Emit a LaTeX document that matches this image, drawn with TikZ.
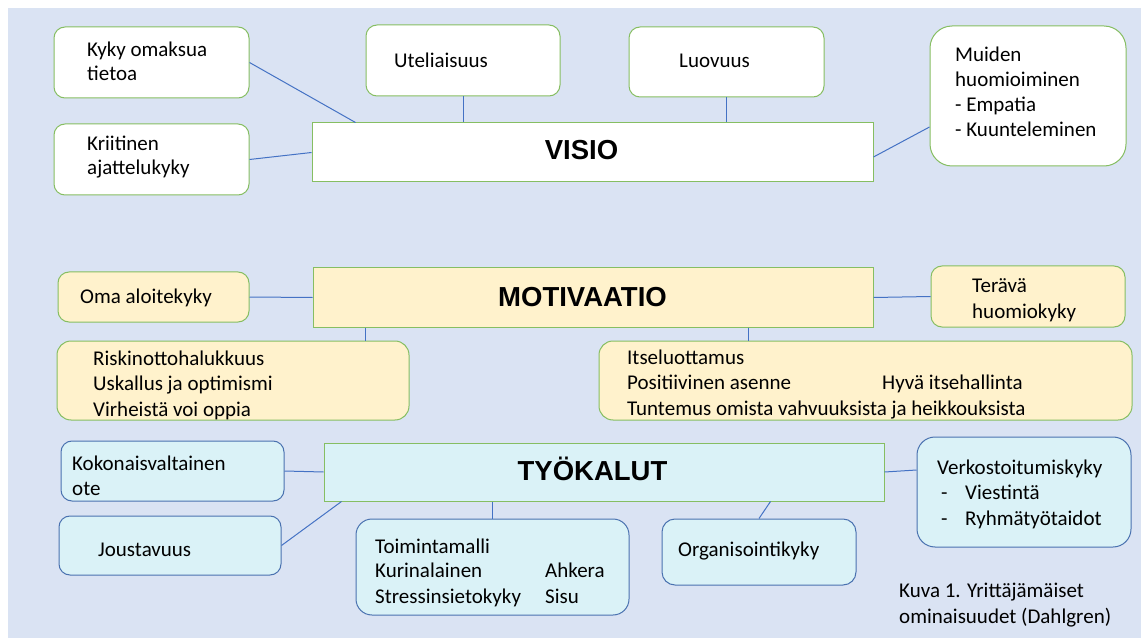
\documentclass[tikz,border=0pt]{standalone}
\usepackage{fontspec}
\setmainfont{Carlito}
\newfontfamily\hdrA{Liberation Sans}
\usetikzlibrary{calc}
\definecolor{bgc}{HTML}{DAE3F3}
\definecolor{grn}{HTML}{86BE62}
\definecolor{blu}{HTML}{4A72B0}
\definecolor{lin}{HTML}{4472C4}
\definecolor{yel}{HTML}{FFF2CC}
\definecolor{cya}{HTML}{DAF2F7}
\tikzset{
  boxbase/.style={rectangle, inner sep=0pt, line width=1pt, rounded corners=11pt},
  wbox/.style={boxbase, draw=grn, fill=white},
  ybox/.style={boxbase, draw=grn, fill=yel},
  cbox/.style={boxbase, draw=blu, fill=cya},
  hdrbox/.style={rectangle, inner sep=0pt, line width=1pt, draw=grn},
  conn/.style={draw=lin, line width=1pt},
  txt/.style={anchor=base west, inner sep=0pt, font=\fontsize{21}{25}\selectfont},
  hdrtxt/.style={anchor=base, inner sep=0pt, font=\hdrA\bfseries\fontsize{27.5}{30}\selectfont},
}
\newcommand\bx[6]{\node[#1, minimum width=#4pt, minimum height=#5pt] (#6) at (#2,#3) {};}
\newcommand\tl[4]{\node[txt] (#1) at (#2,#3) {#4};}
\begin{document}
\begin{tikzpicture}[x=1pt,y=-1pt]
\useasboundingbox (0,0) rectangle (1141,639);
\fill[bgc] (8,8) rectangle (1141,638);

% ---------- VISIO ----------
\bx{wbox}{151.5}{62.5}{195}{71}{kyky}
\bx{wbox}{151.5}{159.5}{195}{71}{krit}
\bx{wbox}{463}{60.5}{194}{71}{utel}
\bx{wbox}{726.5}{62}{195}{70}{luov}
\node[wbox, rounded corners=22pt, minimum width=196pt, minimum height=140pt] (muid) at (1028,96) {};
\node[hdrbox, fill=white, minimum width=561pt, minimum height=59pt] (visio) at (592.5,152.5) {};

\draw[conn] (kyky.east) -- ($(visio.north west)+(44,0)$);
\draw[conn] (krit.east) -- (visio.west);
\draw[conn] (utel.south) -- (utel.south |- visio.north);
\draw[conn] (luov.south) -- (luov.south |- visio.north);
\draw[conn] ($(visio.east)+(0,4.5)$) -- ($(muid.west)+(0,31)$);

\tl{t1}{87}{57}{Kyky omaksua}
\tl{t2}{87}{81}{tietoa}
\tl{t3}{87}{151}{Kriitinen}
\tl{t4}{87}{175}{ajattelukyky}
\tl{t5}{394}{68}{Uteliaisuus}
\tl{t6}{679}{68}{Luovuus}
\tl{t7}{955}{62}{Muiden}
\tl{t8}{955}{87}{huomioiminen}
\tl{t9}{955}{112}{- Empatia}
\tl{t10}{955}{137}{- Kuunteleminen}
\node[hdrtxt] (hv) at (581.5,159.5) {VISIO};

% ---------- MOTIVAATIO ----------
\bx{ybox}{153.5}{297}{191}{50}{oma}
\node[hdrbox, fill=yel, minimum width=560pt, minimum height=59pt] (mot) at (593,297.5) {};
\bx{ybox}{1028}{296.5}{194}{61}{ter}
\node[ybox, rounded corners=14pt, minimum width=352pt, minimum height=79pt] (risk) at (233,380.5) {};
\node[ybox, rounded corners=14pt, minimum width=533pt, minimum height=79pt] (itse) at (865.5,380.5) {};

\draw[conn] (oma.east) -- (mot.west);
\draw[conn] (mot.east) -- (ter.west);
\draw[conn] ($(mot.south west)+(53,0)$) coordinate (m1) -- (m1 |- risk.north);
\draw[conn] ($(mot.south west)+(436,0)$) coordinate (m2) -- (m2 |- itse.north);

\tl{t11}{80}{303}{Oma aloitekyky}
\tl{t12}{972}{292}{Terävä}
\tl{t13}{972}{318}{huomiokyky}
\tl{t14}{93}{365}{Riskinottohalukkuus}
\tl{t15}{93}{390}{Uskallus ja optimismi}
\tl{t16}{93}{416}{Virheistä voi oppia}
\tl{t17}{627}{364}{Itseluottamus}
\tl{t18}{627}{389}{Positiivinen asenne}
\tl{t19}{882}{389}{Hyvä itsehallinta}
\tl{t20}{627}{415}{Tuntemus omista vahvuuksista ja heikkouksista}
\node[hdrtxt] (hm) at (582.5,306.5) {MOTIVAATIO};

% ---------- TYÖKALUT ----------
\bx{cbox}{172.5}{471}{223}{60}{koko}
\node[hdrbox, fill=cya, minimum width=560pt, minimum height=58pt] (tyo) at (604,472) {};
\bx{cbox}{170}{545.5}{222}{59}{jous}
\node[cbox, rounded corners=16pt, minimum width=273pt, minimum height=96pt] (toim) at (492.5,567) {};
\node[cbox, rounded corners=13pt, minimum width=194pt, minimum height=66pt] (org) at (759,552) {};
\node[cbox, rounded corners=18pt, minimum width=214pt, minimum height=110pt] (verk) at (1024,492) {};

\draw[conn] (koko.east) -- (tyo.west);
\draw[conn] ($(tyo.south west)+(18,0)$) -- (jous.east);
\draw[conn] (toim.north |- tyo.south) -- (toim.north);
\draw[conn] ($(tyo.south west)+(447,0)$) -- (org.north);
\draw[conn] (tyo.east) -- ($(verk.west)+(0,-22)$);

\tl{t21}{72}{470}{Kokonaisvaltainen}
\tl{t22}{72}{495}{ote}
\tl{t23}{98}{556}{Joustavuus}
\tl{t24}{375}{553}{Toimintamalli}
\tl{t25}{375}{577}{Kurinalainen}
\tl{t26}{545}{577}{Ahkera}
\tl{t27}{375}{603}{Stressinsietokyky}
\tl{t28}{545}{603}{Sisu}
\tl{t29}{678}{556}{Organisointikyky}
\tl{t30}{937}{474}{Verkostoitumiskyky}
\tl{t31}{941}{499}{-}
\tl{t32}{965}{499}{Viestintä}
\tl{t33}{941}{525}{-}
\tl{t34}{965}{525}{Ryhmätyötaidot}
\tl{t35}{899}{597}{Kuva 1. Yrittäjämäiset}
\tl{t36}{899}{623}{ominaisuudet (Dahlgren)}
\node[hdrtxt] (ht) at (592.5,480) {TYÖKALUT};
\end{tikzpicture}
\end{document}
